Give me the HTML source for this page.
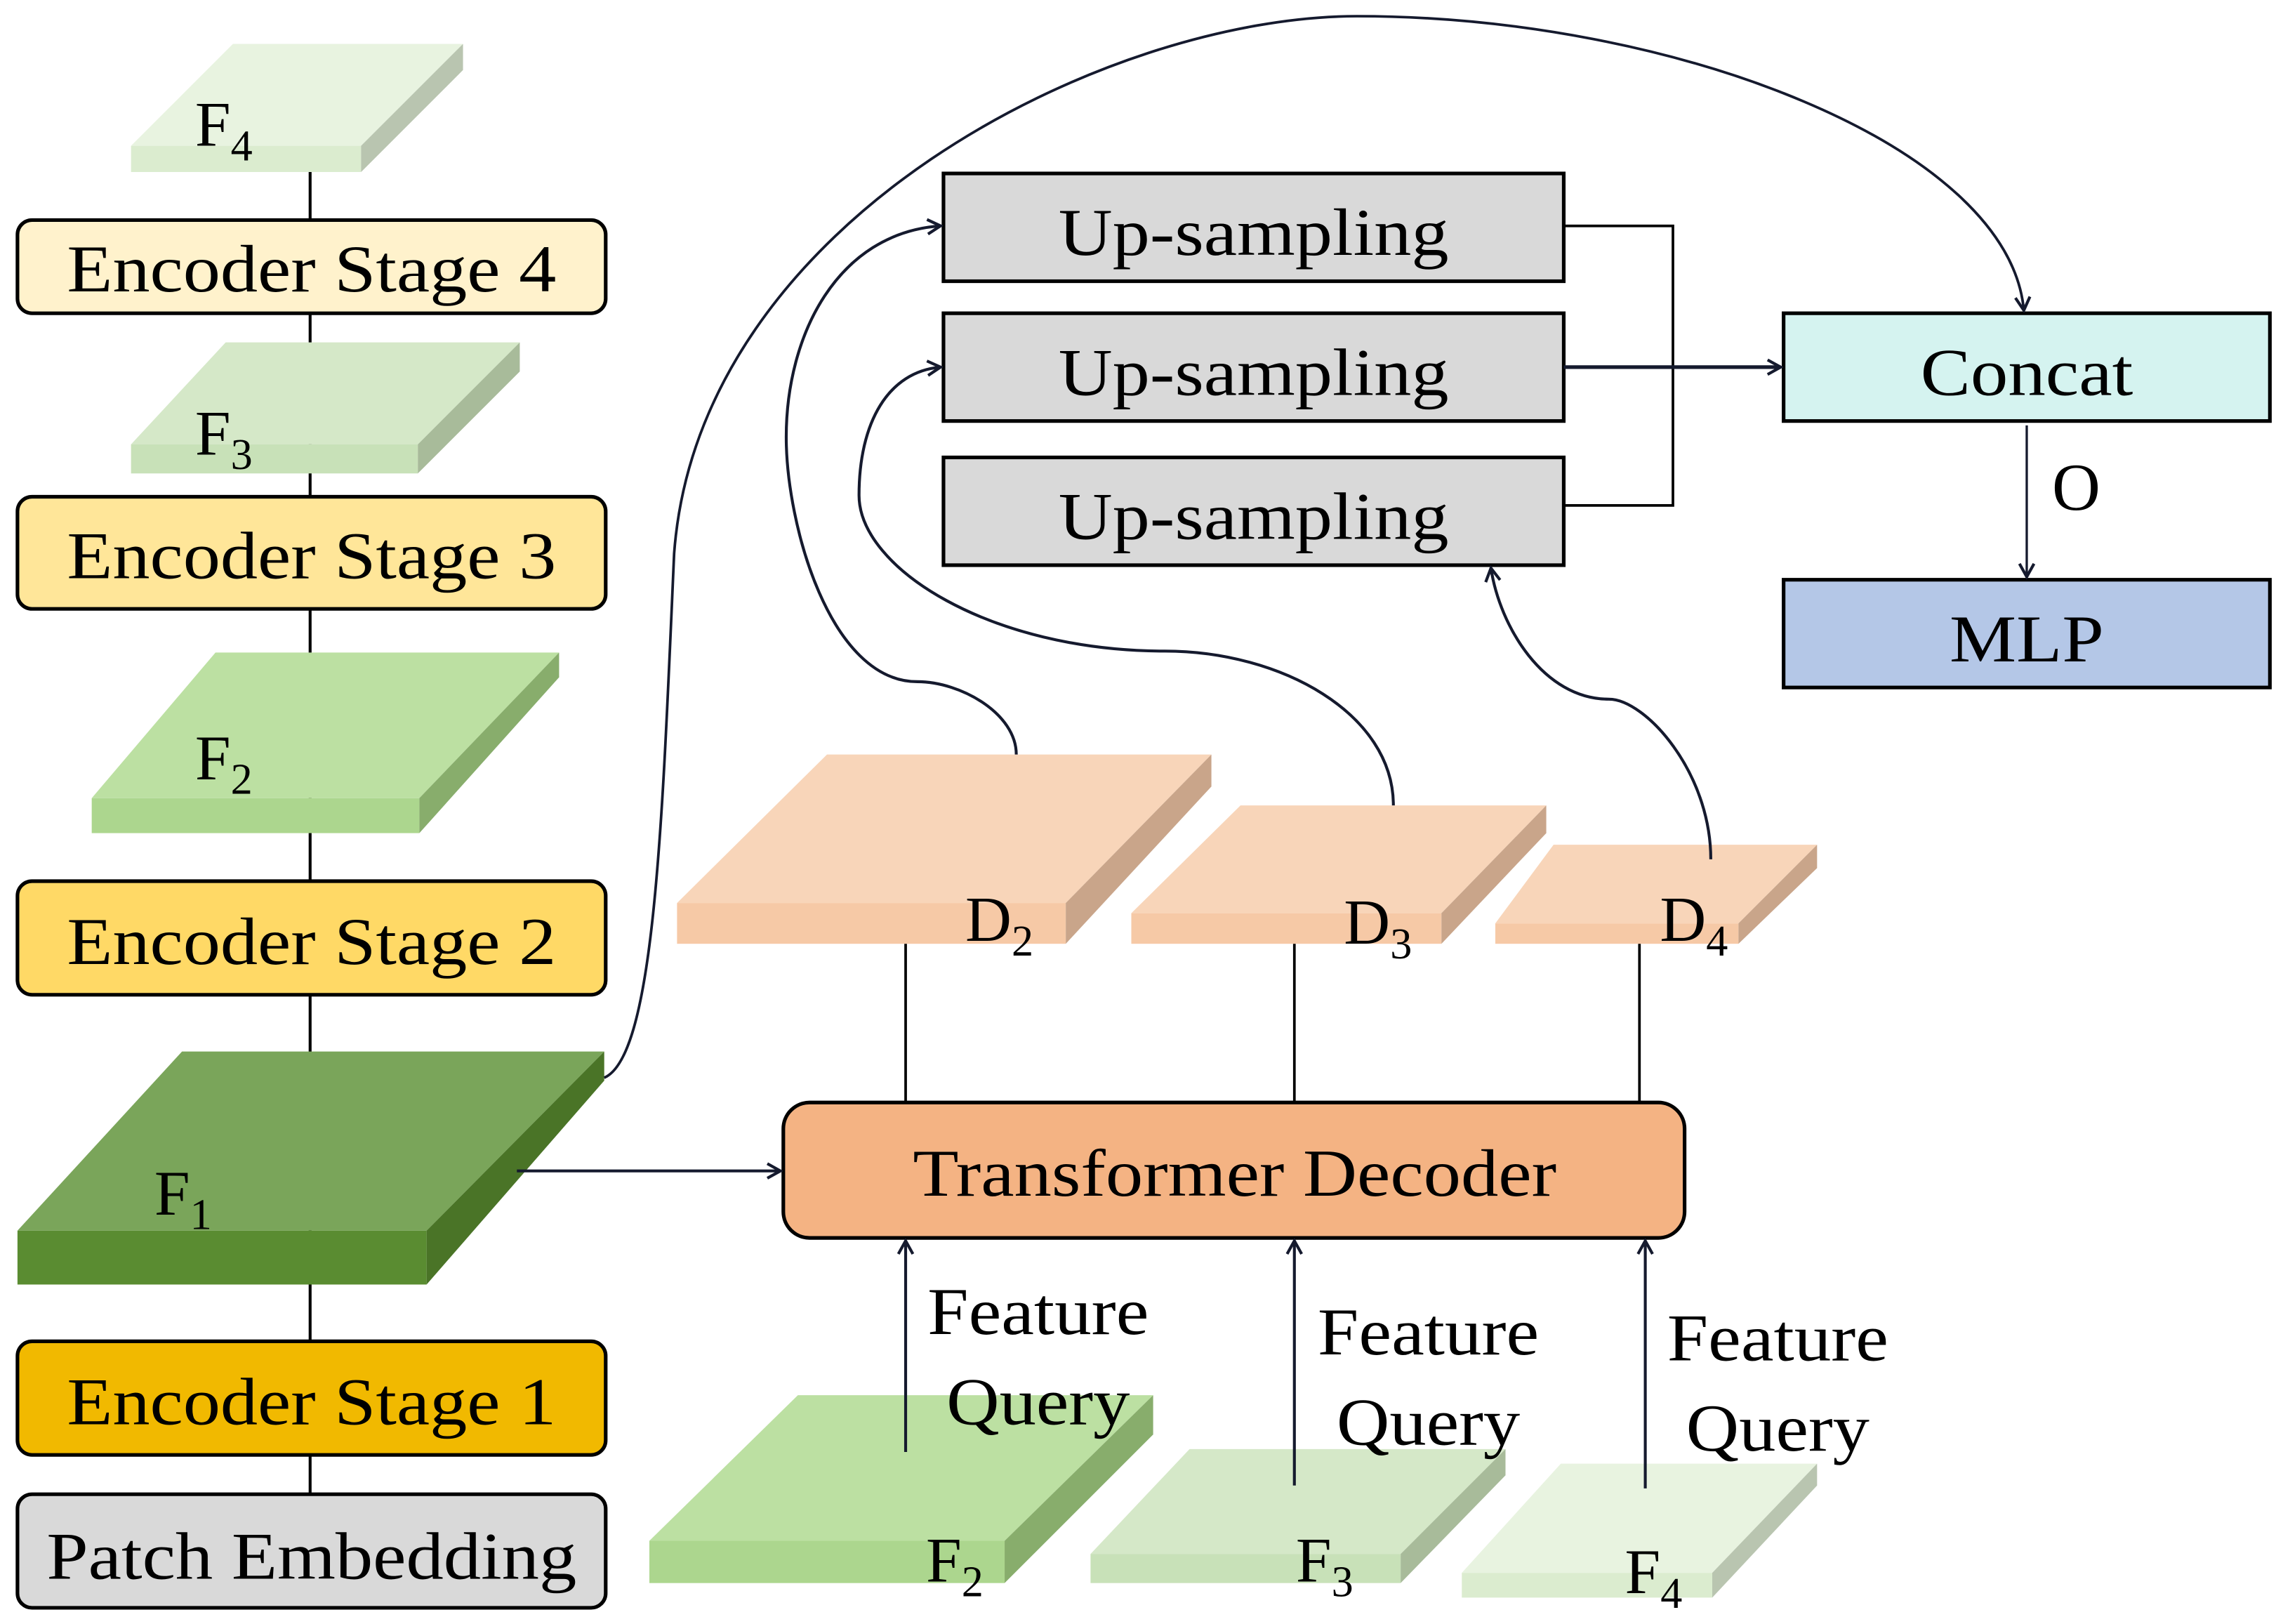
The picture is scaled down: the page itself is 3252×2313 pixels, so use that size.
<!DOCTYPE html>
<html><head><meta charset="utf-8"><style>
html,body{margin:0;padding:0;background:#fff}
svg{display:block}
text{font-family:"Liberation Serif",serif;fill:#000}
</style></head><body>
<svg width="3252" height="2313" viewBox="0 0 1568 1115" xmlns="http://www.w3.org/2000/svg">
<defs>
<marker id="a" markerWidth="12" markerHeight="12" refX="10" refY="6" orient="auto" markerUnits="userSpaceOnUse">
<path d="M1,1 L10,6 L1,11" fill="none" stroke="#151a2e" stroke-width="2"/></marker>
</defs>
<g stroke="#000" stroke-width="2" fill="none">
<line x1="213" y1="118" x2="213" y2="1026"/>
</g>
<g stroke="none">
<polygon points="90,100 160,30 318,30 248,100" fill="#e8f3e0"/><rect x="90" y="100" width="158" height="18" fill="#dbeccf"/><polygon points="248,100 318,30 318,48 248,118" fill="#b9c5b0"/>
<polygon points="90,305 155,235 357,235 287,305" fill="#d5e8c8"/><rect x="90" y="305" width="197" height="20" fill="#c8e1b8"/><polygon points="287,305 357,235 357,255 287,325" fill="#a8bb9a"/>
<polygon points="63,548 148,448 384,448 288,548" fill="#bce0a2"/><rect x="63" y="548" width="225" height="24" fill="#acd68e"/><polygon points="288,548 384,448 384,465 288,572" fill="#88ad6c"/>
<polygon points="12,845 125,722 415,722 293,845" fill="#7aa55a"/><rect x="12" y="845" width="281" height="37" fill="#5a8c31"/><polygon points="293,845 415,722 415,742 293,882" fill="#4a7427"/>
<polygon points="465,620 568,518 832,518 732,620" fill="#f8d5b9"/><rect x="465" y="620" width="267" height="28" fill="#f6c9a6"/><polygon points="732,620 832,518 832,540 732,648" fill="#c9a58a"/>
<polygon points="777,627 852,553 1062,553 990,627" fill="#f8d5b9"/><rect x="777" y="627" width="213" height="21" fill="#f6c9a6"/><polygon points="990,627 1062,553 1062,572 990,648" fill="#c9a58a"/>
<polygon points="1027,634 1067,580 1248,580 1194,634" fill="#f8d5b9"/><rect x="1027" y="634" width="167" height="14" fill="#f6c9a6"/><polygon points="1194,634 1248,580 1248,596 1194,648" fill="#c9a58a"/>
<polygon points="446,1058 548,958 792,958 690,1058" fill="#bce0a2"/><rect x="446" y="1058" width="244" height="29" fill="#acd68e"/><polygon points="690,1058 792,958 792,985 690,1087" fill="#88ad6c"/>
<polygon points="749,1067 817,995 1034,995 962,1067" fill="#d5e8c8"/><rect x="749" y="1067" width="213" height="20" fill="#c8e1b8"/><polygon points="962,1067 1034,995 1034,1013 962,1087" fill="#a8bb9a"/>
<polygon points="1004,1080 1072,1005 1248,1005 1176,1080" fill="#e8f3e0"/><rect x="1004" y="1080" width="172" height="17" fill="#dbeccf"/><polygon points="1176,1080 1248,1005 1248,1020 1176,1097" fill="#b9c5b0"/>
</g>
<g stroke="#000" stroke-width="2.5">
<rect x="12" y="151" width="404" height="64" rx="10" fill="#fff2cc"/>
<rect x="12" y="341" width="404" height="77" rx="10" fill="#ffe699"/>
<rect x="12" y="605" width="404" height="78" rx="10" fill="#ffd966"/>
<rect x="12" y="921" width="404" height="78" rx="10" fill="#f1b900"/>
<rect x="12" y="1026" width="404" height="78" rx="10" fill="#d9d9d9"/>
<rect x="538" y="757" width="619" height="93" rx="18" fill="#f4b383"/>
<rect x="648" y="119" width="426" height="74" fill="#d9d9d9"/>
<rect x="648" y="215" width="426" height="74" fill="#d9d9d9"/>
<rect x="648" y="314" width="426" height="74" fill="#d9d9d9"/>
<rect x="1225" y="215" width="334" height="74" fill="#d5f3f0"/>
<rect x="1225" y="398" width="334" height="74" fill="#b4c7e7"/>
</g>
<g stroke="#000" stroke-width="1.8" fill="none">
<line x1="622" y1="648" x2="622" y2="757"/>
<line x1="889" y1="648" x2="889" y2="757"/>
<line x1="1126" y1="648" x2="1126" y2="757"/>
<polyline points="1074,155 1149,155 1149,347 1074,347"/>
</g>
<g stroke="#151a2e" stroke-width="2" fill="none" marker-end="url(#a)">
<line x1="355" y1="804" x2="536" y2="804"/>
<line x1="622" y1="997" x2="622" y2="852"/>
<line x1="889" y1="1020" x2="889" y2="852"/>
<line x1="1130" y1="1022" x2="1130" y2="852"/>
<line x1="1074" y1="252" x2="1223" y2="252" stroke-width="2.5"/>
<line x1="1392" y1="292" x2="1392" y2="396" stroke-width="1.6"/>
<path d="M415,740 C450,725 455,560 463,380 C480,150 760,11 932,11 C1150,11 1380,100 1390,213" stroke-width="1.8"/>
<path d="M698,518 C698,490 660,468 630,468 C570,468 540,360 540,300 C540,230 575,160 646,155"/>
<path d="M957,553 C957,490 880,447 800,447 C680,447 590,390 590,340 C590,290 610,255 646,252"/>
<path d="M1175,590 C1175,530 1130,480 1105,480 C1060,480 1030,430 1024,390"/>
</g>
<g font-size="46" text-anchor="middle">
<text x="214" y="200" textLength="336" lengthAdjust="spacingAndGlyphs">Encoder Stage 4</text>
<text x="214" y="397" textLength="336" lengthAdjust="spacingAndGlyphs">Encoder Stage 3</text>
<text x="214" y="662" textLength="336" lengthAdjust="spacingAndGlyphs">Encoder Stage 2</text>
<text x="214" y="978" textLength="336" lengthAdjust="spacingAndGlyphs">Encoder Stage 1</text>
<text x="214" y="1084" textLength="364" lengthAdjust="spacingAndGlyphs">Patch Embedding</text>
<text x="848" y="821" textLength="442" lengthAdjust="spacingAndGlyphs">Transformer Decoder</text>
<text x="861" y="175" textLength="268" lengthAdjust="spacingAndGlyphs">Up-sampling</text>
<text x="861" y="271" textLength="268" lengthAdjust="spacingAndGlyphs">Up-sampling</text>
<text x="861" y="370" textLength="268" lengthAdjust="spacingAndGlyphs">Up-sampling</text>
<text x="1392" y="271" textLength="146" lengthAdjust="spacingAndGlyphs">Concat</text>
<text x="1392" y="454" textLength="106" lengthAdjust="spacingAndGlyphs">MLP</text>
<text x="1426" y="350">O</text>
<text x="713" y="916" textLength="152" lengthAdjust="spacingAndGlyphs">Feature</text>
<text x="713" y="978" textLength="126" lengthAdjust="spacingAndGlyphs">Query</text>
<text x="981" y="930" textLength="152" lengthAdjust="spacingAndGlyphs">Feature</text>
<text x="981" y="992" textLength="126" lengthAdjust="spacingAndGlyphs">Query</text>
<text x="1221" y="934" textLength="152" lengthAdjust="spacingAndGlyphs">Feature</text>
<text x="1221" y="996" textLength="126" lengthAdjust="spacingAndGlyphs">Query</text>
</g>
<g font-size="44">
<text x="134" y="100">F<tspan font-size="30" dy="10">4</tspan></text>
<text x="134" y="312">F<tspan font-size="30" dy="10">3</tspan></text>
<text x="134" y="535">F<tspan font-size="30" dy="10">2</tspan></text>
<text x="106" y="834">F<tspan font-size="30" dy="10">1</tspan></text>
<text x="663" y="646">D<tspan font-size="30" dy="10">2</tspan></text>
<text x="923" y="648">D<tspan font-size="30" dy="10">3</tspan></text>
<text x="1140" y="646">D<tspan font-size="30" dy="10">4</tspan></text>
<text x="636" y="1086">F<tspan font-size="30" dy="10">2</tspan></text>
<text x="890" y="1086">F<tspan font-size="30" dy="10">3</tspan></text>
<text x="1116" y="1094">F<tspan font-size="30" dy="10">4</tspan></text>
</g>
</svg>
</body></html>
